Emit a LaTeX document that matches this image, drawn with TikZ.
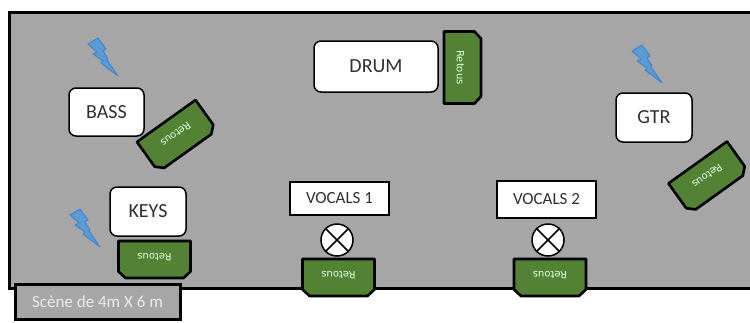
\documentclass[tikz,border=0pt]{standalone}
\usepackage{fontspec}
\setmainfont{Carlito}
\newfontfamily\monfont{DejaVu Sans}
\definecolor{stagegray}{HTML}{A6A6A6}
\definecolor{mongreen}{HTML}{548235}
\definecolor{boltblue}{HTML}{5B9BD5}
\definecolor{boltedge}{HTML}{3F86CC}
\definecolor{inkgray}{HTML}{303030}
\newcommand{\fsize}[1]{\fontsize{#1}{#1}\selectfont}
\tikzset{
  x=1pt,y=-1pt,
  musician/.style={draw=black,line width=1.5pt,fill=white,rounded corners=7pt,inner sep=0pt,text=inkgray,font=\fsize{20}},
  singer/.style={draw=black,line width=1.5pt,fill=white,inner sep=0pt,text=inkgray,font=\fsize{17}},
  montext/.style={text=white!90!green,font=\monfont\fsize{10},inner sep=0pt},
  monshape/.style={draw=black,line width=2.6pt,fill=mongreen,line join=round},
  boltshape/.style={draw=boltedge,line width=1pt,fill=boltblue,line join=round},
  crossmark/.style={draw=black,line width=1.5pt,fill=white,circle,minimum size=32pt,inner sep=0pt},
  pics/monitor/.style={code={
    \draw[monshape,rotate=#1] (-36,-18.5) -- (36,-18.5) -- (36,12) -- (29,18.5) -- (-29,18.5) -- (-36,12) -- cycle;
    \node[montext,rotate=180+#1] (-t) at ({-2*sin(#1)},{-2*cos(#1)}) {Retous};
  }},
  pics/bolt/.style={code={
    \draw[boltshape] (-15,-13) -- (-5,-19) -- (3,-8) -- (0,-6) -- (5,2) -- (4,3) -- (15,19)
      -- (-2,6) -- (0,4) -- (-10,-3) -- (-6,-5) -- cycle;
  }}
}
\begin{document}
\begin{tikzpicture}
\useasboundingbox (0,0) rectangle (750,322);
\clip (0,0) rectangle (750,322);
\draw[draw=black,line width=3pt,fill=stagegray] (9.5,12) rectangle (760,288.5);
\node[musician,minimum width=75pt,minimum height=48pt] (bass) at (106.5,112) {BASS};
\node[musician,minimum width=76pt,minimum height=49pt] (keys) at (148,211.5) {KEYS};
\node[musician,minimum width=124pt,minimum height=51pt] (drum) at (376,66.5) {DRUM};
\node[musician,minimum width=76pt,minimum height=49pt] (gtr) at (654,117.5) {GTR};
\node[singer,minimum width=99pt,minimum height=33pt] (voc1) at (339.5,198.5) {VOCALS 1};
\node[singer,minimum width=99pt,minimum height=37pt] (voc2) at (546.5,199.5) {VOCALS 2};
\node[crossmark] (mic1) at (337,240) {};
\node[crossmark] (mic2) at (548,240) {};
\draw[line width=1.5pt] (mic1.north west) -- (mic1.south east) (mic1.north east) -- (mic1.south west);
\draw[line width=1.5pt] (mic2.north west) -- (mic2.south east) (mic2.north east) -- (mic2.south west);
\pic (m1) at (154.5,259.5) {monitor=0};
\pic (m2) at (338.5,277.5) {monitor=0};
\pic (m3) at (550,277.5) {monitor=0};
\pic (m4) at (462.5,67.5) {monitor=90};
\pic (m5) at (177,136) {monitor=35.6};
\pic (m6) at (708.5,177.5) {monitor=35.6};
\pic (b1) at (103,57) {bolt};
\pic (b2) at (647,64) {bolt};
\pic (b3) at (85,228) {bolt};
\node[draw=black,line width=3pt,fill=stagegray,minimum width=165pt,minimum height=35pt,inner sep=0pt,text=white!92!black,font=\fsize{17}] (cap) at (97.5,302) {Scène de 4m X 6 m};
\end{tikzpicture}
\end{document}
